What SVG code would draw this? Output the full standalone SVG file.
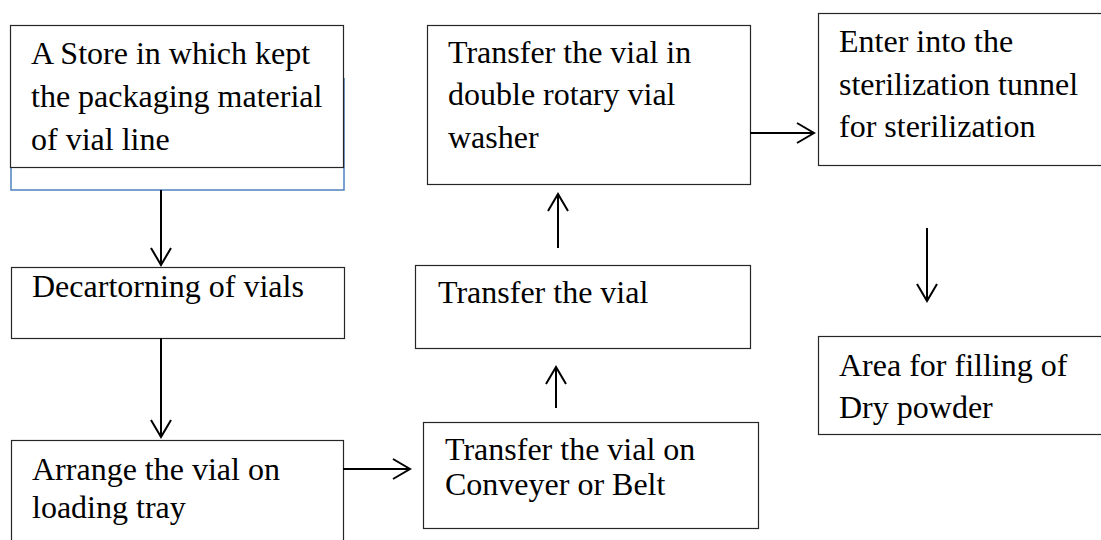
<svg xmlns="http://www.w3.org/2000/svg" width="1101" height="540" viewBox="0 0 1101 540">
  <style>
    .box { fill: #ffffff; stroke: #262626; stroke-width: 1.2; }
    .lbl { font-family: "Liberation Serif", "Times New Roman", serif; font-size: 32px; fill: #000000; }
    .wire { stroke: #000000; stroke-width: 2; fill: none; }
    .head { stroke: #000000; stroke-width: 2; fill: none; stroke-linejoin: miter; }
  </style>
  <rect width="1101" height="540" fill="#ffffff"/>

  <!-- store: outline plus the offset blue frame behind it -->
  <g id="store">
    <path d="M344,78 V190 H11 V167" fill="none" stroke="#4f81bd" stroke-width="1.5"/>
    <rect class="box" x="10.5" y="25.5" width="333" height="142"/>
    <text class="lbl" x="31" y="64">A Store in which kept</text>
    <text class="lbl" x="31" y="107">the packaging material</text>
    <text class="lbl" x="31" y="150">of vial line</text>
  </g>

  <g id="decartoning">
    <rect class="box" x="11.5" y="267.5" width="333" height="71"/>
    <text class="lbl" x="32" y="297">Decartorning of vials</text>
  </g>

  <g id="loading-tray">
    <rect class="box" x="11.5" y="440.5" width="332" height="120"/>
    <text class="lbl" x="32" y="480">Arrange the vial on</text>
    <text class="lbl" x="32" y="518">loading tray</text>
  </g>

  <g id="conveyer">
    <rect class="box" x="423.5" y="422.5" width="335" height="106"/>
    <text class="lbl" x="445" y="460">Transfer the vial on</text>
    <text class="lbl" x="445" y="495">Conveyer or Belt</text>
  </g>

  <g id="transfer">
    <rect class="box" x="415.5" y="265.5" width="335" height="83"/>
    <text class="lbl" x="438" y="303">Transfer the vial</text>
  </g>

  <g id="washer">
    <rect class="box" x="427.5" y="25.5" width="323" height="159"/>
    <text class="lbl" x="448" y="63">Transfer the vial in</text>
    <text class="lbl" x="448" y="105">double rotary vial</text>
    <text class="lbl" x="448" y="148">washer</text>
  </g>

  <g id="tunnel">
    <rect class="box" x="818.5" y="13.5" width="300" height="152"/>
    <text class="lbl" x="839" y="52">Enter into the</text>
    <text class="lbl" x="839" y="95">sterilization tunnel</text>
    <text class="lbl" x="839" y="137">for sterilization</text>
  </g>

  <g id="filling">
    <rect class="box" x="818.5" y="336.5" width="300" height="98"/>
    <text class="lbl" x="839" y="376">Area for filling of</text>
    <text class="lbl" x="839" y="418">Dry powder</text>
  </g>

  <!-- connectors: shaft plus open chevron head -->
  <g id="connectors">
    <path class="wire" d="M161,190 V265"/>
    <path class="head" d="M151,248 L161,265 L171,248"/>

    <path class="wire" d="M161,338 V437"/>
    <path class="head" d="M151,420 L161,437 L171,420"/>

    <path class="wire" d="M343,469 H410"/>
    <path class="head" d="M393,459 L410,469 L393,479"/>

    <path class="wire" d="M556,408 V367"/>
    <path class="head" d="M546,384 L556,367 L566,384"/>

    <path class="wire" d="M558,248 V194"/>
    <path class="head" d="M548,211 L558,194 L568,211"/>

    <path class="wire" d="M750,133 H814"/>
    <path class="head" d="M797,123 L814,133 L797,143"/>

    <path class="wire" d="M927,228 V301"/>
    <path class="head" d="M917,284 L927,301 L937,284"/>
  </g>
</svg>
